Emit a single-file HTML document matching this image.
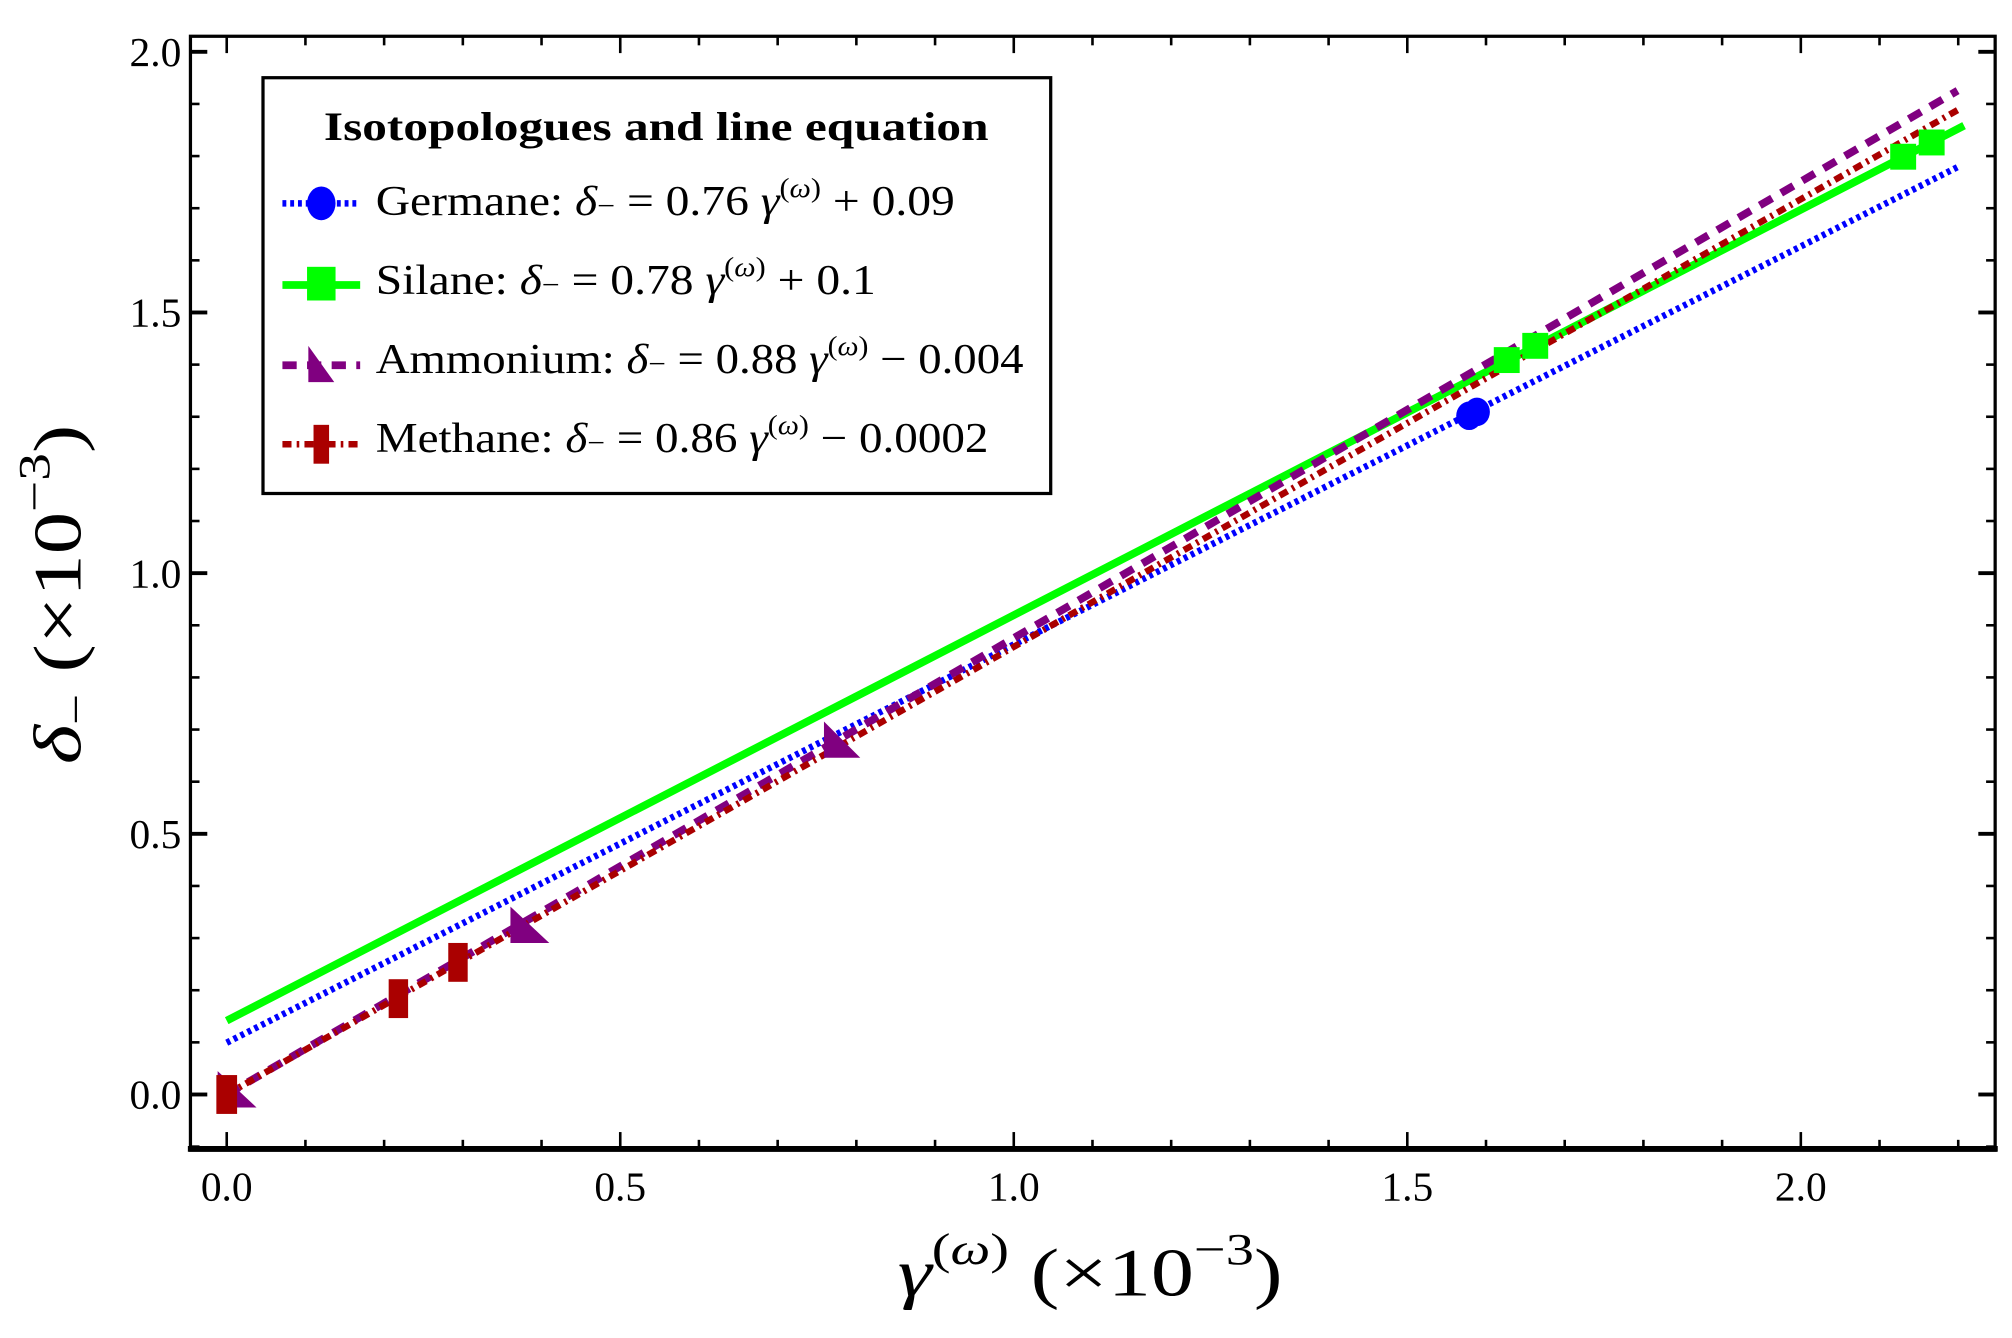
<!DOCTYPE html>
<html><head><meta charset="utf-8"><style>
html,body{margin:0;padding:0;background:#fff;}
svg{display:block;}
text{font-family:"Liberation Serif",serif;}
</style></head><body>
<svg id="s" width="2012" height="1338" viewBox="0 0 1553 1033" preserveAspectRatio="none" xmlns="http://www.w3.org/2000/svg">
<rect width="1553" height="1033" fill="#fff"/>
<g id="ticks" stroke="#000"></g>
<rect x="147" y="28" width="1393" height="860" fill="none" stroke="#000" stroke-width="2.5"/>
<line x1="145" y1="887" x2="1542" y2="887" stroke="#000" stroke-width="4.5"/>
<g id="tl" font-size="32" fill="#000"></g>
<g fill="none" stroke-linecap="butt">
<line x1="175" y1="788" x2="1516" y2="97" stroke="#00ff00" stroke-width="6"/>
<line x1="175" y1="805" x2="1511" y2="129" stroke="#0000ff" stroke-width="5" stroke-dasharray="3 3"/>
<line x1="175" y1="845" x2="1511" y2="70" stroke="#800080" stroke-width="6" stroke-dasharray="11 8"/>
<line x1="175" y1="845" x2="1511" y2="85" stroke="#aa0000" stroke-width="5" stroke-dasharray="7 4 2 4"/>
</g>
<g fill="#0000ff"><ellipse cx="1134" cy="321" rx="10" ry="11"/><ellipse cx="1140" cy="318" rx="10" ry="11"/></g>
<g fill="#00ff00">
<rect x="1153" y="268" width="20" height="20"/><rect x="1175" y="257" width="20" height="20"/>
<rect x="1459" y="111" width="20" height="20"/><rect x="1481" y="100" width="20" height="20"/>
</g>
<g fill="#800080">
<polygon points="168,827 168,855 198,855"/>
<polygon points="394,700 394,728 424,728"/>
<polygon points="636,557 636,585 664,585"/>
</g>
<g fill="#aa0000">
<rect x="167" y="830" width="16" height="30"/>
<rect x="300" y="756" width="15" height="30"/>
<rect x="346" y="728" width="15" height="30"/>
</g>
<rect x="203" y="60" width="608" height="321" fill="#fff" stroke="#000" stroke-width="2.5"/>
<text x="250" y="108" font-size="31" font-weight="bold" textLength="513" lengthAdjust="spacingAndGlyphs">Isotopologues and line equation</text>
<g font-size="33">
<line x1="218" y1="157" x2="278" y2="157" stroke="#0000ff" stroke-width="5" stroke-dasharray="3 3"/>
<ellipse cx="248" cy="157" rx="11" ry="13" fill="#0000ff"/>
<text x="290" y="166" textLength="447" lengthAdjust="spacingAndGlyphs">Germane: <tspan font-style="italic">δ</tspan><tspan font-size="22">−</tspan> = 0.76 <tspan font-style="italic">γ</tspan><tspan font-size="21" dy="-14">(<tspan font-style="italic">ω</tspan>)</tspan><tspan dy="14"> + 0.09</tspan></text>
<line x1="218" y1="220" x2="278" y2="220" stroke="#00ff00" stroke-width="6"/>
<rect x="237" y="206" width="22" height="26" fill="#00ff00"/>
<text x="290" y="227" textLength="386" lengthAdjust="spacingAndGlyphs">Silane: <tspan font-style="italic">δ</tspan><tspan font-size="22">−</tspan> = 0.78 <tspan font-style="italic">γ</tspan><tspan font-size="21" dy="-14">(<tspan font-style="italic">ω</tspan>)</tspan><tspan dy="14"> + 0.1</tspan></text>
<line x1="218" y1="282" x2="278" y2="282" stroke="#800080" stroke-width="6" stroke-dasharray="11 8"/>
<polygon points="238,267 238,295 258,295" fill="#800080"/>
<text x="290" y="288" textLength="500" lengthAdjust="spacingAndGlyphs">Ammonium: <tspan font-style="italic">δ</tspan><tspan font-size="22">−</tspan> = 0.88 <tspan font-style="italic">γ</tspan><tspan font-size="21" dy="-14">(<tspan font-style="italic">ω</tspan>)</tspan><tspan dy="14"> − 0.004</tspan></text>
<line x1="218" y1="343" x2="278" y2="343" stroke="#aa0000" stroke-width="5" stroke-dasharray="7 4 2 4"/>
<rect x="242" y="328" width="12" height="30" fill="#aa0000"/>
<text x="290" y="349" textLength="473" lengthAdjust="spacingAndGlyphs">Methane: <tspan font-style="italic">δ</tspan><tspan font-size="22">−</tspan> = 0.86 <tspan font-style="italic">γ</tspan><tspan font-size="21" dy="-14">(<tspan font-style="italic">ω</tspan>)</tspan><tspan dy="14"> − 0.0002</tspan></text>
</g>
<text x="693" y="1000" font-size="52" textLength="297" lengthAdjust="spacingAndGlyphs"><tspan font-style="italic">γ</tspan><tspan font-size="34" dy="-24">(<tspan font-style="italic">ω</tspan>)</tspan><tspan dy="24"> (×10</tspan><tspan font-size="34" dy="-24">−3</tspan><tspan dy="24">)</tspan></text>
<text transform="translate(62,590) rotate(-90)" font-size="52" textLength="262" lengthAdjust="spacingAndGlyphs"><tspan font-style="italic">δ</tspan><tspan font-size="34" dy="8">−</tspan><tspan dy="-8"> (×10</tspan><tspan font-size="34" dy="-24">−3</tspan><tspan dy="24">)</tspan></text>
</svg>
<script>
var NS="http://www.w3.org/2000/svg",t=document.getElementById("ticks"),tl=document.getElementById("tl");
function L(x1,y1,x2,y2,w){var l=document.createElementNS(NS,"line");l.setAttribute("x1",x1);l.setAttribute("y1",y1);l.setAttribute("x2",x2);l.setAttribute("y2",y2);l.setAttribute("stroke-width",w);t.appendChild(l);}
function T(x,y,s,a){var e=document.createElementNS(NS,"text");e.setAttribute("x",x);e.setAttribute("y",y);e.setAttribute("text-anchor",a);e.textContent=s;tl.appendChild(e);}
for(var i=0;i<=22;i++){var x=175+i*60.75,maj=i%5==0,len=maj?12:6;
 L(x,886,x,886-len,2);L(x,29,x,29+len,2);
 if(maj)T(x,927,(i/10).toFixed(1),"middle");}
for(var j=-1;j<=20;j++){var y=845-j*40.25,maj=(j%5==0),len=maj?12:6;
 if(y<30)continue;
 L(148,y,148+len,y,maj?3:2);L(1539,y,1539-len,y,maj?3:2);
 if(maj&&j>=0)T(140,y+11,(j/10).toFixed(1),"end");}
</script>
</body></html>
